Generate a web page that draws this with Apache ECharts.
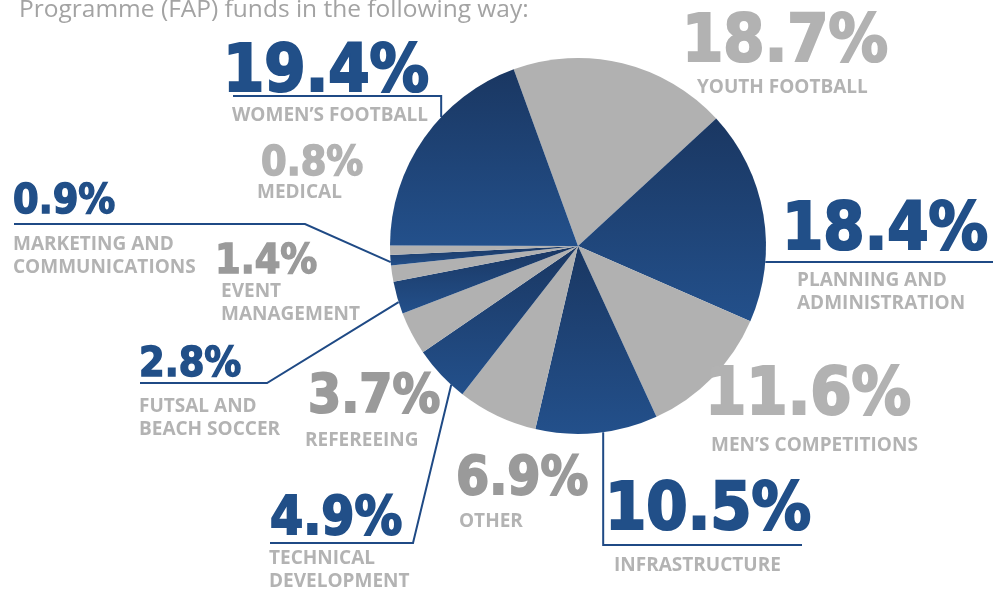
<!DOCTYPE html>
<html>
<head>
<meta charset="utf-8">
<script src="https://cdn.jsdelivr.net/npm/echarts@6/dist/echarts.min.js"></script>
<style>
  html, body { margin: 0; padding: 0; background: #ffffff; }
  #chart { width: 998px; height: 589px; }
</style>
</head>
<body>
<div id="chart"></div>
<script>
// ---- data ----
const introText = "Programme (FAP) funds in the following way:";
const categories = [
  ["YOUTH FOOTBALL"],
  ["PLANNING AND", "ADMINISTRATION"],
  ["MEN’S COMPETITIONS"],
  ["INFRASTRUCTURE"],
  ["OTHER"],
  ["TECHNICAL", "DEVELOPMENT"],
  ["REFEREEING"],
  ["FUTSAL AND", "BEACH SOCCER"],
  ["EVENT", "MANAGEMENT"],
  ["MARKETING AND", "COMMUNICATIONS"],
  ["MEDICAL"],
  ["WOMEN’S FOOTBALL"]
];
const shares = [18.7, 18.4, 11.6, 10.5, 6.9, 4.9, 3.7, 2.8, 1.4, 0.9, 0.8, 19.4];

// ---- styling / layout (not data) ----
const sliceTone = ["grey","blue","grey","blue","grey","blue","grey","blue","grey","blue","grey","blue"];
const pctColor  = ["#b2b2b2","#214f88","#b2b2b2","#214f88","#9a9a9a","#214f88","#9a9a9a","#214f88","#9a9a9a","#214f88","#b2b2b2","#214f88"];
const pctSize   = [66, 66, 66, 66, 53, 53, 53, 41, 41, 41, 41, 66];
const pctStroke = [2.2, 2.2, 2.2, 2.2, 1.8, 1.8, 1.8, 1.4, 1.4, 1.4, 1.4, 2.2];
// ink-left x of percentage, cap-centre y of percentage, ink-left x of caption, cap-centre y of caption line 1
const pctX  = [687, 787, 710, 610, 458, 272, 310, 140, 218, 14, 262, 228];
const pctCY = [37.5, 226, 391, 506, 475, 515, 393.5, 361.5, 259, 198.5, 160.5, 67.5];
const capX  = [698, 798, 712, 615, 460, 270, 306, 140, 222, 14, 258, 233];
const capCY = [85, 278.5, 443.5, 563.5, 519.5, 556.5, 438.5, 404.5, 289.5, 242.5, 190, 113];
// leader lines: anchor angle on the pie rim (deg), corner point, end point
const leader = {
  1:  { angle: -4.9,  corner: [993, 262], end: [993, 262] },
  3:  { angle: -82.3, corner: null,       end: [802, 545], cornerY: 545 },
  5:  { angle: 227.6, corner: [413, 543], end: [270, 543] },
  7:  { angle: 197.4, corner: [267, 383], end: [140, 383] },
  9:  { angle: 184.9, corner: [305, 224], end: [14, 224] },
  11: { angle: 136.7, corner: null,       end: [233, 96], cornerY: 96 }
};

const CENTER = [578, 246];
const RADIUS = 188;
const CAP_LH = 23;
const CAP_SHIFT = 2.5;     // caption glyphs sit a little above their line centre
const PCT_SHIFT = 0.09;    // percentage glyphs sit above their line centre (x font size)
const BLUE_LINE = "#1f4a85";

const pctFont = '"DejaVu Sans Condensed", "DejaVu Sans", sans-serif';
const capFont = '"Open Sans", "Liberation Sans", sans-serif';

function blueGrad() {
  return { type: 'linear', x: 0, y: 0, x2: 0, y2: 1,
    colorStops: [{ offset: 0, color: '#1a3762' }, { offset: 1, color: '#23508b' }] };
}

const labelGeom = shares.map((v, i) => {
  const S = pctSize[i];
  const txt = v.toFixed(1) + '%';
  const bearing = Math.round(S * (txt[0] === '1' ? 0.07 : 0.035));
  const pOrigin = pctX[i] - bearing;
  const cOrigin = capX[i] - 1;
  const x = Math.min(pOrigin, cOrigin);
  const kS = PCT_SHIFT * S;
  const Lp = 2 * (capCY[i] - pctCY[i] - kS - (CAP_LH / 2 - CAP_SHIFT));
  const y = pctCY[i] + kS - Lp / 2;
  return { x, y, Lp, pPad: pOrigin - x, cPad: cOrigin - x };
});

const data = shares.map((v, i) => {
  const g = labelGeom[i];
  const hasLine = leader[i] !== undefined;
  return {
    name: categories[i].join(' '),
    value: v,
    itemStyle: { color: sliceTone[i] === 'blue' ? blueGrad() : '#b1b1b1' },
    label: {
      rich: {
        p: { fontSize: pctSize[i], fontWeight: 'bold', fontFamily: pctFont, color: pctColor[i],
             textBorderColor: pctColor[i], textBorderWidth: pctStroke[i],
             lineHeight: g.Lp, padding: [0, 0, 0, g.pPad] },
        c: { fontSize: 19, fontWeight: 'bold', fontFamily: capFont, color: '#b3b3b3',
             lineHeight: CAP_LH, padding: [0, 0, 0, g.cPad] }
      }
    },
    labelLine: { show: hasLine }
  };
});

const chart = echarts.init(document.getElementById('chart'), null, { renderer: 'canvas' });
chart.setOption({
  animation: false,
  backgroundColor: '#ffffff',
  title: {
    text: introText, left: 14, top: -7,
    textStyle: { fontSize: 24.5, fontWeight: 'normal', color: '#a3a3a3', fontFamily: capFont }
  },
  series: [{
    type: 'pie',
    center: CENTER,
    radius: RADIUS,
    startAngle: 110,
    clockwise: true,
    avoidLabelOverlap: false,
    silent: true,
    data: data,
    label: {
      show: true,
      position: 'outside',
      formatter: (p) => {
        const i = p.dataIndex;
        return '{p|' + shares[i].toFixed(1) + '%}\n' + categories[i].map(s => '{c|' + s + '}').join('\n');
      }
    },
    labelLine: { show: false, smooth: false, lineStyle: { color: BLUE_LINE, width: 2 } },
    labelLayout: (params) => {
      const i = params.dataIndex;
      const g = labelGeom[i];
      const out = { x: g.x, y: g.y, align: 'left', verticalAlign: 'top' };
      const L = leader[i];
      if (L) {
        const a = L.angle * Math.PI / 180;
        const start = [CENTER[0] + RADIUS * Math.cos(a), CENTER[1] - RADIUS * Math.sin(a)];
        const corner = L.corner ? L.corner : [start[0], L.cornerY];
        out.labelLinePoints = [start, corner, L.end];
      }
      return out;
    }
  }]
});
</script>
</body>
</html>
